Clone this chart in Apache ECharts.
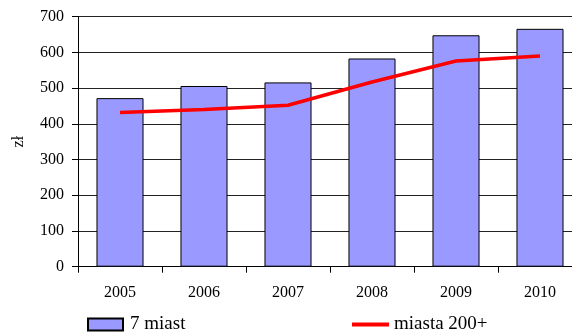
<!DOCTYPE html>
<html>
<head>
<meta charset="utf-8">
<script src="https://cdn.jsdelivr.net/npm/echarts@6/dist/echarts.min.js"></script>
<style>
  html, body { margin: 0; padding: 0; background: #fff; }
  #chart { width: 572px; height: 333px; }
</style>
</head>
<body>
<div id="chart"></div>
<script>
// Average monthly amounts (zł) by year
const years = ['2005', '2006', '2007', '2008', '2009', '2010'];
const sevenCities = [472, 506, 516, 583, 648, 666];
const bigCities = [432, 440, 452, 517, 576, 590];
const yTicks = [0, 100, 200, 300, 400, 500, 600, 700];

const font = 'Times New Roman, Liberation Serif, DejaVu Serif, serif';
const chart = echarts.init(document.getElementById('chart'), null, { renderer: 'canvas' });

chart.setOption({
  animation: false,
  backgroundColor: '#ffffff',
  textStyle: { fontFamily: font, color: '#000' },
  grid: {
    left: 78, width: 504, top: 16.7, height: 250,
    containLabel: false,
    outerBoundsMode: 'none'
  },
  xAxis: {
    type: 'category',
    data: years,
    boundaryGap: true,
    axisLine: { lineStyle: { color: '#000', width: 1 } },
    axisTick: { show: true, length: 6, lineStyle: { color: '#000' } },
    axisLabel: { fontFamily: font, fontSize: 16, color: '#000', margin: 18 }
  },
  yAxis: {
    type: 'value',
    min: yTicks[0],
    max: yTicks[yTicks.length - 1],
    interval: 100,
    name: 'zł',
    nameLocation: 'middle',
    nameGap: 51,
    nameRotate: 90,
    nameTextStyle: { fontFamily: font, fontSize: 16, color: '#000' },
    axisLine: { show: true, lineStyle: { color: '#000', width: 1 } },
    axisTick: { show: true, length: 6, lineStyle: { color: '#000' } },
    axisLabel: { fontFamily: font, fontSize: 16, color: '#000', margin: 14 },
    splitLine: { show: true, lineStyle: { color: '#222', width: 1 } }
  },
  legend: [
    {
      data: [{ name: '7 miast', icon: 'rect' }],
      left: 87, top: 315, padding: 0,
      itemWidth: 35, itemHeight: 12,
      textStyle: { fontFamily: font, fontSize: 19, color: '#000', padding: [0, 0, 0, 2] }
    },
    {
      data: [{ name: 'miasta 200+', icon: 'rect', itemStyle: { color: '#ff0000', borderWidth: 0 } }],
      left: 352, top: 315, padding: 0,
      itemWidth: 37, itemHeight: 4,
      textStyle: { fontFamily: font, fontSize: 19, color: '#000', padding: [0, 0, 0, 0] }
    }
  ],
  series: [
    {
      name: '7 miast',
      type: 'bar',
      data: sevenCities,
      barCategoryGap: '44%',
      itemStyle: { color: '#9999ff', borderColor: '#000', borderWidth: 1 },
      z: 2
    },
    {
      name: 'miasta 200+',
      type: 'line',
      data: bigCities,
      symbol: 'none',
      showSymbol: false,
      lineStyle: { color: '#ff0000', width: 3.5 },
      itemStyle: { color: '#ff0000' },
      z: 3
    }
  ]
});
</script>
</body>
</html>
